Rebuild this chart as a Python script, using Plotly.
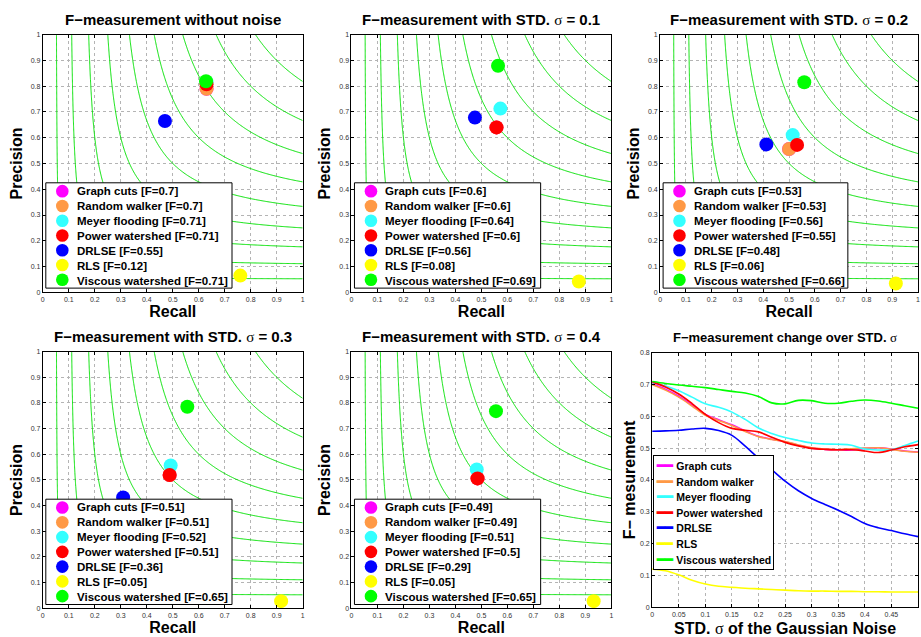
import numpy as np
import plotly.graph_objects as go

W, H = 921, 637

# ---------------- data ----------------
methods = ["Graph cuts", "Random walker", "Meyer flooding", "Power watershed",
           "DRLSE", "RLS", "Viscous watershed"]
method_colors = ["#ff00ff", "#ff9945", "#33ffff", "#ff0000",
                 "#0000ff", "#ffff00", "#00ff00"]

panel_titles = [
    "F−measurement without noise",
    "F−measurement with STD. <SIG> = 0.1",
    "F−measurement with STD. <SIG> = 0.2",
    "F−measurement with STD. <SIG> = 0.3",
    "F−measurement with STD. <SIG> = 0.4",
]

recall_no_noise = [0.63, 0.63, 0.63, 0.63, 0.47, 0.76, 0.628]
precision_no_noise = [0.79, 0.79, 0.815, 0.807, 0.665, 0.065, 0.819]
fscore_no_noise = [0.7, 0.7, 0.71, 0.71, 0.55, 0.12, 0.71]

recall_std_01 = [0.558, 0.558, 0.573, 0.558, 0.475, 0.875, 0.564]
precision_std_01 = [0.64, 0.64, 0.713, 0.64, 0.678, 0.042, 0.879]
fscore_std_01 = [0.6, 0.6, 0.64, 0.6, 0.56, 0.08, 0.69]

recall_std_02 = [0.50, 0.50, 0.514, 0.531, 0.412, 0.914, 0.559]
precision_std_02 = [0.556, 0.556, 0.61, 0.572, 0.574, 0.034, 0.815]
fscore_std_02 = [0.53, 0.53, 0.56, 0.55, 0.48, 0.06, 0.66]

recall_std_03 = [0.488, 0.488, 0.492, 0.488, 0.309, 0.917, 0.556]
precision_std_03 = [0.519, 0.519, 0.556, 0.519, 0.432, 0.028, 0.785]
fscore_std_03 = [0.51, 0.51, 0.52, 0.51, 0.36, 0.05, 0.65]

recall_std_04 = [0.485, 0.485, 0.482, 0.485, 0.27, 0.932, 0.556]
precision_std_04 = [0.506, 0.506, 0.541, 0.506, 0.31, 0.028, 0.768]
fscore_std_04 = [0.49, 0.49, 0.51, 0.5, 0.29, 0.05, 0.65]

iso_f_levels = [0.1, 0.2, 0.3, 0.4, 0.5, 0.6, 0.7, 0.8, 0.9]

sigma_steps = [0, 0.025, 0.05, 0.075, 0.1, 0.125, 0.15, 0.175, 0.2, 0.225, 0.25,
               0.275, 0.3, 0.325, 0.35, 0.375, 0.4, 0.425, 0.45, 0.475, 0.5]
f_graph_cuts = [0.702, 0.685, 0.663, 0.635, 0.606, 0.589, 0.573, 0.554, 0.537, 0.528, 0.520,
                0.509, 0.500, 0.496, 0.494, 0.494, 0.499, 0.501, 0.497, 0.491, 0.488]
f_random_walker = [0.699, 0.682, 0.660, 0.632, 0.603, 0.587, 0.571, 0.552, 0.536, 0.527, 0.521,
                   0.510, 0.501, 0.497, 0.495, 0.498, 0.500, 0.501, 0.496, 0.490, 0.487]
f_meyer_flooding = [0.706, 0.695, 0.680, 0.660, 0.639, 0.628, 0.613, 0.590, 0.563, 0.546, 0.533,
                    0.524, 0.516, 0.513, 0.512, 0.509, 0.497, 0.494, 0.495, 0.508, 0.522]
f_power_watershed = [0.708, 0.692, 0.670, 0.640, 0.606, 0.580, 0.562, 0.556, 0.551, 0.534, 0.518,
                     0.507, 0.499, 0.496, 0.495, 0.495, 0.491, 0.486, 0.494, 0.504, 0.511]
f_drlse = [0.553, 0.554, 0.556, 0.560, 0.562, 0.555, 0.540, 0.506, 0.468, 0.432, 0.396,
           0.366, 0.342, 0.323, 0.305, 0.285, 0.263, 0.250, 0.241, 0.231, 0.222]
f_rls = [0.120, 0.115, 0.102, 0.085, 0.073, 0.066, 0.063, 0.060, 0.058, 0.056, 0.054,
         0.052, 0.051, 0.051, 0.050, 0.050, 0.049, 0.049, 0.048, 0.048, 0.048]
f_viscous_watershed = [0.709, 0.703, 0.698, 0.694, 0.690, 0.684, 0.678, 0.673, 0.662, 0.642, 0.639,
                       0.650, 0.649, 0.641, 0.641, 0.647, 0.651, 0.648, 0.641, 0.633, 0.625]

# ---------------- styling ----------------
FONT = "Liberation Sans, Arial, sans-serif"
SIG = "<span style='font-family:Liberation Serif;font-weight:normal'>σ</span>"
iso_color = "#00e000"
LEG_FONT = 11.5
LEG_LINE = LEG_FONT * 1.3      # plotly's line spacing (px)
LEG_TOP = 0.425                # legend box top, in axis units
LEG_LEFT, LEG_RIGHT = 0.0115, 0.728
LEG_KEY_X, LEG_TEXT_X = 0.075, 0.126

scatter_panels = [
    (recall_no_noise, precision_no_noise, fscore_no_noise),
    (recall_std_01, precision_std_01, fscore_std_01),
    (recall_std_02, precision_std_02, fscore_std_02),
    (recall_std_03, precision_std_03, fscore_std_03),
    (recall_std_04, precision_std_04, fscore_std_04),
]
panel_px = [  # (x0, x1, y0, y1) in pixels
    (41, 302, 31, 292),
    (351, 612, 31, 292),
    (661, 920, 31, 292),
    (41, 302, 352, 612),
    (351, 612, 352, 612),
]
line_px = (653, 920, 353, 611)


def xdom(p):
    return [p[0] / W, p[1] / W]


def ydom(p):
    return [1 - p[3] / H, 1 - p[2] / H]


def axis_style():
    return dict(showline=True, linecolor="black", linewidth=1, mirror="ticks",
                ticks="inside", ticklen=3, tickcolor="black", tickwidth=1,
                showgrid=True, gridcolor="#b4b4b4", griddash="dot", gridwidth=1,
                zeroline=False, tickfont=dict(size=7, color="#333333", family=FONT))


fig = go.Figure()
grid = np.linspace(0, 1, 301)
RR, PP = np.meshgrid(grid, grid)
with np.errstate(divide="ignore", invalid="ignore"):
    FF = np.where(RR + PP > 0, 2 * RR * PP / (RR + PP), 0.0)

layout = dict(width=W, height=H, margin=dict(l=0, r=0, t=0, b=0),
              paper_bgcolor="white", plot_bgcolor="white", showlegend=False,
              font=dict(family=FONT, color="black"))
annotations = []
shapes = []

for k, ((rec, prec, fsc), px, title) in enumerate(zip(scatter_panels, panel_px, panel_titles), start=1):
    xa = "x" if k == 1 else f"x{k}"
    ya = "y" if k == 1 else f"y{k}"
    fig.add_trace(go.Contour(
        x=grid, y=grid, z=FF, xaxis=xa, yaxis=ya, autocontour=False,
        contours=dict(start=iso_f_levels[0], end=iso_f_levels[-1], size=0.1,
                      coloring="lines", showlabels=False),
        colorscale=[[0, iso_color], [1, iso_color]], line=dict(width=1),
        showscale=False, hoverinfo="skip"))
    for m, c, r, p in zip(methods, method_colors, rec, prec):
        fig.add_trace(go.Scatter(x=[r], y=[p], mode="markers", name=m, xaxis=xa, yaxis=ya,
                                 marker=dict(size=14, color=c, line=dict(width=0)),
                                 cliponaxis=False, showlegend=False))
    xs = axis_style()
    xs.update(domain=xdom(px), range=[0, 1], dtick=0.1, anchor=ya,
              title=dict(text="Recall", standoff=2,
                         font=dict(size=16, weight="bold", family=FONT)))
    ys = axis_style()
    ys.update(domain=ydom(px), range=[0, 1], dtick=0.1, anchor=xa,
              title=dict(text="Precision", standoff=4,
                         font=dict(size=16, weight="bold", family=FONT)))
    layout["xaxis" if k == 1 else f"xaxis{k}"] = xs
    layout["yaxis" if k == 1 else f"yaxis{k}"] = ys

    annotations.append(dict(
        text=title.replace("<SIG>", SIG), xref="paper", yref="paper",
        x=(px[0] + px[1]) / 2 / W, y=1 - (px[2] - 15) / H,
        xanchor="center", yanchor="middle", showarrow=False,
        font=dict(size=15, weight="bold", family=FONT)))

    # legend: white box, colour keys, labels
    ax_h = px[3] - px[2]
    top_pad = 1.0
    box_h = 2 * top_pad + len(methods) * LEG_LINE
    shapes.append(dict(type="rect", xref=xa, yref=ya, x0=LEG_LEFT, x1=LEG_RIGHT,
                       y0=LEG_TOP - box_h / ax_h, y1=LEG_TOP, fillcolor="white",
                       line=dict(color="black", width=1), layer="above"))
    for i, c in enumerate(method_colors):
        yc = LEG_TOP - (top_pad + (i + 0.5) * LEG_LINE) / ax_h
        shapes.append(dict(type="circle", xref=xa, yref=ya,
                           xsizemode="pixel", ysizemode="pixel",
                           xanchor=LEG_KEY_X, yanchor=yc, x0=-6.3, x1=6.3, y0=-6.3, y1=6.3,
                           fillcolor=c, line=dict(width=0), layer="above"))
    lines = [f"{m} [F={f:g}]" for m, f in zip(methods, fsc)]
    annotations.append(dict(
        text="<br>".join(lines), xref=xa, yref=ya, x=LEG_TEXT_X,
        y=LEG_TOP - top_pad / ax_h,
        xanchor="left", yanchor="top", align="left", showarrow=False,
        borderpad=0, font=dict(size=LEG_FONT, weight="bold", family=FONT)))

# ---------------- line panel ----------------
f_series = [f_graph_cuts, f_random_walker, f_meyer_flooding, f_power_watershed,
            f_drlse, f_rls, f_viscous_watershed]
for m, c, ys_ in zip(methods, method_colors, f_series):
    fig.add_trace(go.Scatter(x=sigma_steps, y=ys_, mode="lines", name=m,
                             xaxis="x6", yaxis="y6",
                             line=dict(color=c, width=1.6, shape="spline"),
                             showlegend=False))
xs = axis_style()
xs.update(domain=xdom(line_px), range=[0, 0.5], dtick=0.05, anchor="y6",
          title=dict(text=f"STD. {SIG} of the Gaussian Noise", standoff=8,
                     font=dict(size=16, weight="bold", family=FONT)))
ys = axis_style()
ys.update(domain=ydom(line_px), range=[0, 0.8], dtick=0.1, anchor="x6",
          title=dict(text="F− mesurement", standoff=0,
                     font=dict(size=16, weight="bold", family=FONT)))
layout["xaxis6"] = xs
layout["yaxis6"] = ys
annotations.append(dict(
    text=f"F−measurement change over STD. {SIG}", xref="paper", yref="paper",
    x=(line_px[0] + line_px[1]) / 2 / W, y=1 - 338 / H,
    xanchor="center", yanchor="middle", showarrow=False,
    font=dict(size=13, weight="bold", family=FONT)))
line_lines = [f"<span style='color:{c};font-size:13px'>━━</span> "
              f"<span style='font-size:10.5px'>{m}</span>"
              for m, c in zip(methods, method_colors)]
annotations.append(dict(
    text="<br>".join(line_lines), xref="x6", yref="y6", x=0.001, y=0.116,
    xanchor="left", yanchor="bottom", align="left", showarrow=False,
    bgcolor="white", bordercolor="black", borderwidth=1, borderpad=2,
    font=dict(size=12, weight="bold", family=FONT)))

layout["annotations"] = annotations
layout["shapes"] = shapes
fig.update_layout(**layout)
fig.write_html("out.html", config={"displayModeBar": False},
               post_script="document.body.style.margin='0';")
